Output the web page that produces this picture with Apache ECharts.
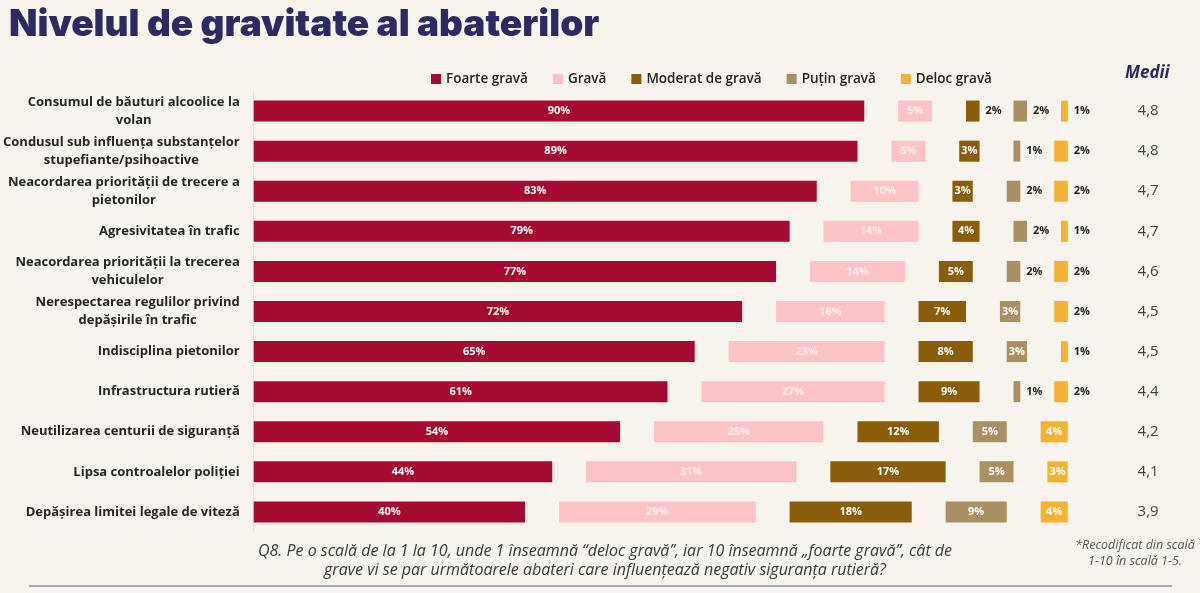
<!DOCTYPE html>
<html>
<head>
<meta charset="utf-8">
<script src="https://cdn.jsdelivr.net/npm/echarts@6/dist/echarts.min.js"></script>
<style>
html,body{margin:0;padding:0;background:#f7f4ee;}
#chart{width:1200px;height:593px;}
</style>
</head>
<body>
<div id="chart"></div>
<script>
const categories = [
  "Consumul de băuturi alcoolice la\nvolan",
  "Condusul sub influența substanțelor\nstupefiante/psihoactive",
  "Neacordarea priorității de trecere a\npietonilor",
  "Agresivitatea în trafic",
  "Neacordarea priorității la trecerea\nvehiculelor",
  "Nerespectarea regulilor privind\ndepășirile în trafic",
  "Indisciplina pietonilor",
  "Infrastructura rutieră",
  "Neutilizarea centurii de siguranță",
  "Lipsa controalelor poliției",
  "Depășirea limitei legale de viteză"
];
const foarteGrava = [90, 89, 83, 79, 77, 72, 65, 61, 54, 44, 40];
const grava       = [5, 5, 10, 14, 14, 16, 23, 27, 25, 31, 29];
const moderat     = [2, 3, 3, 4, 5, 7, 8, 9, 12, 17, 18];
const putin       = [2, 1, 2, 2, 2, 3, 3, 1, 5, 5, 9];
const deloc       = [1, 2, 2, 1, 2, 2, 1, 2, 4, 3, 4];
const medii = ["4,8", "4,8", "4,7", "4,7", "4,6", "4,5", "4,5", "4,4", "4,2", "4,1", "3,9"];
const seriesNames = ["Foarte gravă", "Gravă", "Moderat de gravă", "Puțin gravă", "Deloc gravă"];

const colors = ["#a50a30", "#fbc3c6", "#8a5d0a", "#a98f62", "#f4b233"];
const GAP = 5;
const FONT = "'Open Sans', 'DejaVu Sans', sans-serif";

function realSeries(name, values, color, labelColor, smallOutside) {
  return {
    name: name,
    type: 'bar',
    stack: 'total',
    barWidth: 21,
    itemStyle: { color: color },
    label: {
      show: true,
      position: 'inside',
      formatter: '{c}%',
      color: labelColor,
      fontFamily: FONT,
      fontWeight: 700,
      fontSize: 11
    },
    data: values.map(v => {
      if (smallOutside && v <= 2) {
        return { value: v, label: { position: 'right', color: '#222', distance: 6 } };
      }
      return v;
    })
  };
}
function spacer(i) {
  return {
    name: 'gap' + i,
    type: 'bar',
    stack: 'total',
    silent: true,
    barWidth: 21,
    itemStyle: { color: 'rgba(0,0,0,0)' },
    label: { show: false },
    tooltip: { show: false },
    data: categories.map(() => GAP)
  };
}

const series = [
  realSeries(seriesNames[0], foarteGrava, colors[0], '#ffffff', false),
  spacer(1),
  realSeries(seriesNames[1], grava, colors[1], '#fdeced', false),
  spacer(2),
  realSeries(seriesNames[2], moderat, colors[2], '#ffffff', true),
  spacer(3),
  realSeries(seriesNames[3], putin, colors[3], '#ffffff', true),
  spacer(4),
  realSeries(seriesNames[4], deloc, colors[4], '#ffffff', true)
];

const chart = echarts.init(document.getElementById('chart'));
chart.setOption({
  backgroundColor: '#f7f4ee',
  animation: false,
  title: [
    {
      text: 'Nivelul de gravitate al abaterilor',
      left: 4, top: 1,
      textStyle: { fontFamily: "Inter, 'Open Sans', sans-serif", fontWeight: 900, fontSize: 37, color: '#2d2a63' }
    },
    {
      text: 'Medii',
      left: 1120, top: 60,
      textStyle: { fontFamily: FONT, fontStyle: 'italic', fontWeight: 700, fontSize: 17, color: '#2d2a63' }
    },
    {
      text: 'Q8. Pe o scală de la 1 la 10, unde 1 înseamnă “deloc gravă”, iar 10 înseamnă „foarte gravă”, cât de\ngrave vi se par următoarele abateri care influențează negativ siguranța rutieră?',
      left: 600, top: 537, textAlign: 'center',
      textStyle: { fontFamily: FONT, fontStyle: 'italic', fontWeight: 400, fontSize: 16, lineHeight: 19, color: '#3a3a3a', align: 'center' }
    },
    {
      text: '*Recodificat din scală\n1-10 în scală 1-5.',
      left: 1130, top: 532, textAlign: 'center',
      textStyle: { fontFamily: FONT, fontStyle: 'italic', fontWeight: 400, fontSize: 12.5, lineHeight: 16, color: '#555', align: 'center' }
    }
  ],
  legend: {
    data: seriesNames,
    left: 426, top: 67,
    icon: 'rect',
    itemWidth: 10, itemHeight: 10,
    itemGap: 25,
    textStyle: { fontFamily: FONT, fontWeight: 600, fontSize: 13.5, color: '#222' }
  },
  grid: { left: 253, top: 91, width: 882.6, height: 441, containLabel: false },
  xAxis: {
    type: 'value', min: 0, max: 130,
    show: false
  },
  yAxis: [
    {
      type: 'category',
      data: categories,
      inverse: true,
      axisLine: { show: true, lineStyle: { color: '#e6e2da' } },
      axisTick: { show: false },
      axisLabel: {
        margin: 14,
        align: 'right',
        formatter: v => v.split('\n').map(l => '{c|' + l + '}').join('\n'),
        rich: {
          c: { align: 'center', fontFamily: FONT, fontWeight: 700, fontSize: 13, lineHeight: 18, color: '#262626' }
        }
      }
    },
    {
      type: 'category',
      data: medii,
      inverse: true,
      position: 'right',
      axisLine: { show: false },
      axisTick: { show: false },
      axisLabel: { margin: 2, fontFamily: FONT, fontSize: 15, color: '#444' }
    }
  ],
  series: series,
  graphic: [
    {
      type: 'line',
      shape: { x1: 29, y1: 586, x2: 1172, y2: 586 },
      style: { stroke: '#a9a4c0', lineWidth: 2 }
    }
  ]
});
</script>
</body>
</html>
